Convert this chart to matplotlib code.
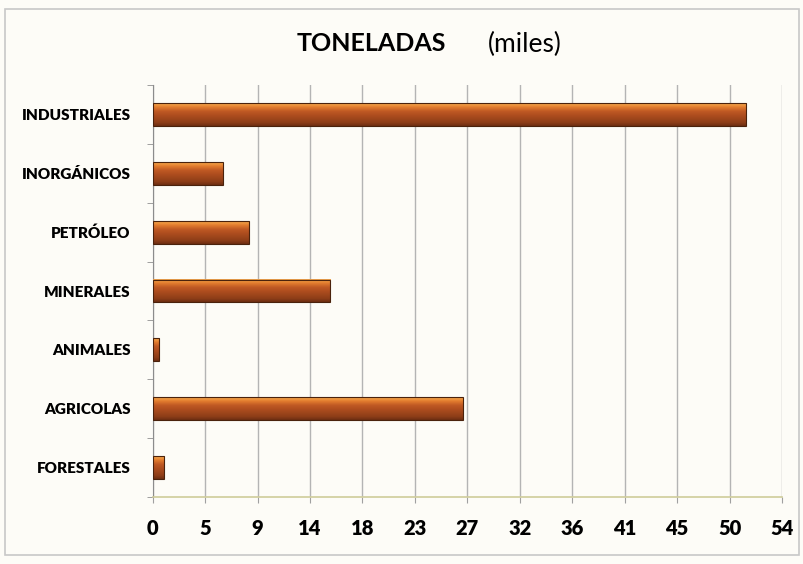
import numpy as np
import matplotlib
matplotlib.use('Agg')
from matplotlib import pyplot as plt
from matplotlib.patches import Rectangle
import matplotlib.colors as mcolors

# --- data (thousands of tonnes)
categorias = ['INDUSTRIALES', 'INORGÁNICOS', 'PETRÓLEO', 'MINERALES',
              'ANIMALES', 'AGRICOLAS', 'FORESTALES']
toneladas = [50.9, 6.0, 8.3, 15.2, 0.55, 26.6, 0.95]
x_ticks = [0, 4.5, 9, 13.5, 18, 22.5, 27, 31.5, 36, 40.5, 45, 49.5, 54]
x_labels = ['0', '5', '9', '14', '18', '23', '27', '32', '36', '41', '45', '50', '54']

fName = 'Lato'
bg = '#fdfcf7'
bar_h = 0.39

# vertical gradient for the "3D" bar look (bottom dark brown -> top light orange)
cmap = mcolors.LinearSegmentedColormap.from_list(
    'barra', [(0.0, '#6e2e12'), (0.15, '#8e3e18'), (0.45, '#ac4c1e'),
              (0.65, '#c05a24'), (0.82, '#e07a2e'), (0.93, '#f09840'),
              (1.0, '#e8a050')])
grad = np.linspace(0, 1, 64).reshape(-1, 1)

fig = plt.figure(figsize=(8.04, 5.64), dpi=100, facecolor=bg)
ax = fig.add_axes([0.19, 0.119, 0.7826, 0.730])
ax.set_facecolor(bg)

n = len(categorias)
ypos = np.arange(n)[::-1]  # first category on top

for y, v in zip(ypos, toneladas):
    ax.imshow(grad, cmap=cmap, aspect='auto', origin='lower',
              extent=[0, v, y - bar_h / 2, y + bar_h / 2], zorder=3)
    ax.add_patch(Rectangle((0, y - bar_h / 2), v, bar_h, fill=False,
                           edgecolor='#4a220c', lw=0.8, zorder=4))

ax.set_xlim(0, 54)
ax.set_ylim(-0.5, n - 0.5)

ax.set_xticks(x_ticks)
ax.set_xticklabels(x_labels, fontsize=14.5, fontweight='heavy', family=fName)
ax.xaxis.grid(True, color='#b4b4b4', lw=1.0, zorder=0)
ax.set_axisbelow(True)
ax.tick_params(axis='x', length=4, color='#a0a0a0', pad=12)

ax.set_yticks(ypos)
ax.set_yticklabels(categorias, fontsize=11, fontweight='heavy', family=fName)
ax.set_yticks(np.arange(-0.5, n, 1.0), minor=True)
ax.tick_params(axis='y', which='major', length=0, pad=16)
ax.tick_params(axis='y', which='minor', length=4, color='#909090')

for s in ['top', 'right']:
    ax.spines[s].set_visible(False)
ax.spines['left'].set_color('#8c8c8c')
ax.spines['bottom'].set_color('#cfcc9a')
ax.spines['bottom'].set_linewidth(1.2)

# title in two pieces (bold + regular)
fig.text(0.462, 0.922, 'TONELADAS', fontsize=18, fontweight='bold',
         family=fName, ha='center', va='center')
fig.text(0.653, 0.922, '(miles)', fontsize=19, family=fName,
         ha='center', va='center')

# chart frame
fig.patches.append(Rectangle((0.006, 0.016), 0.988, 0.968, fill=False,
                             edgecolor='#c8c8c8', lw=1.2,
                             transform=fig.transFigure, figure=fig))

plt.savefig('out.png', dpi=100, facecolor=bg)
